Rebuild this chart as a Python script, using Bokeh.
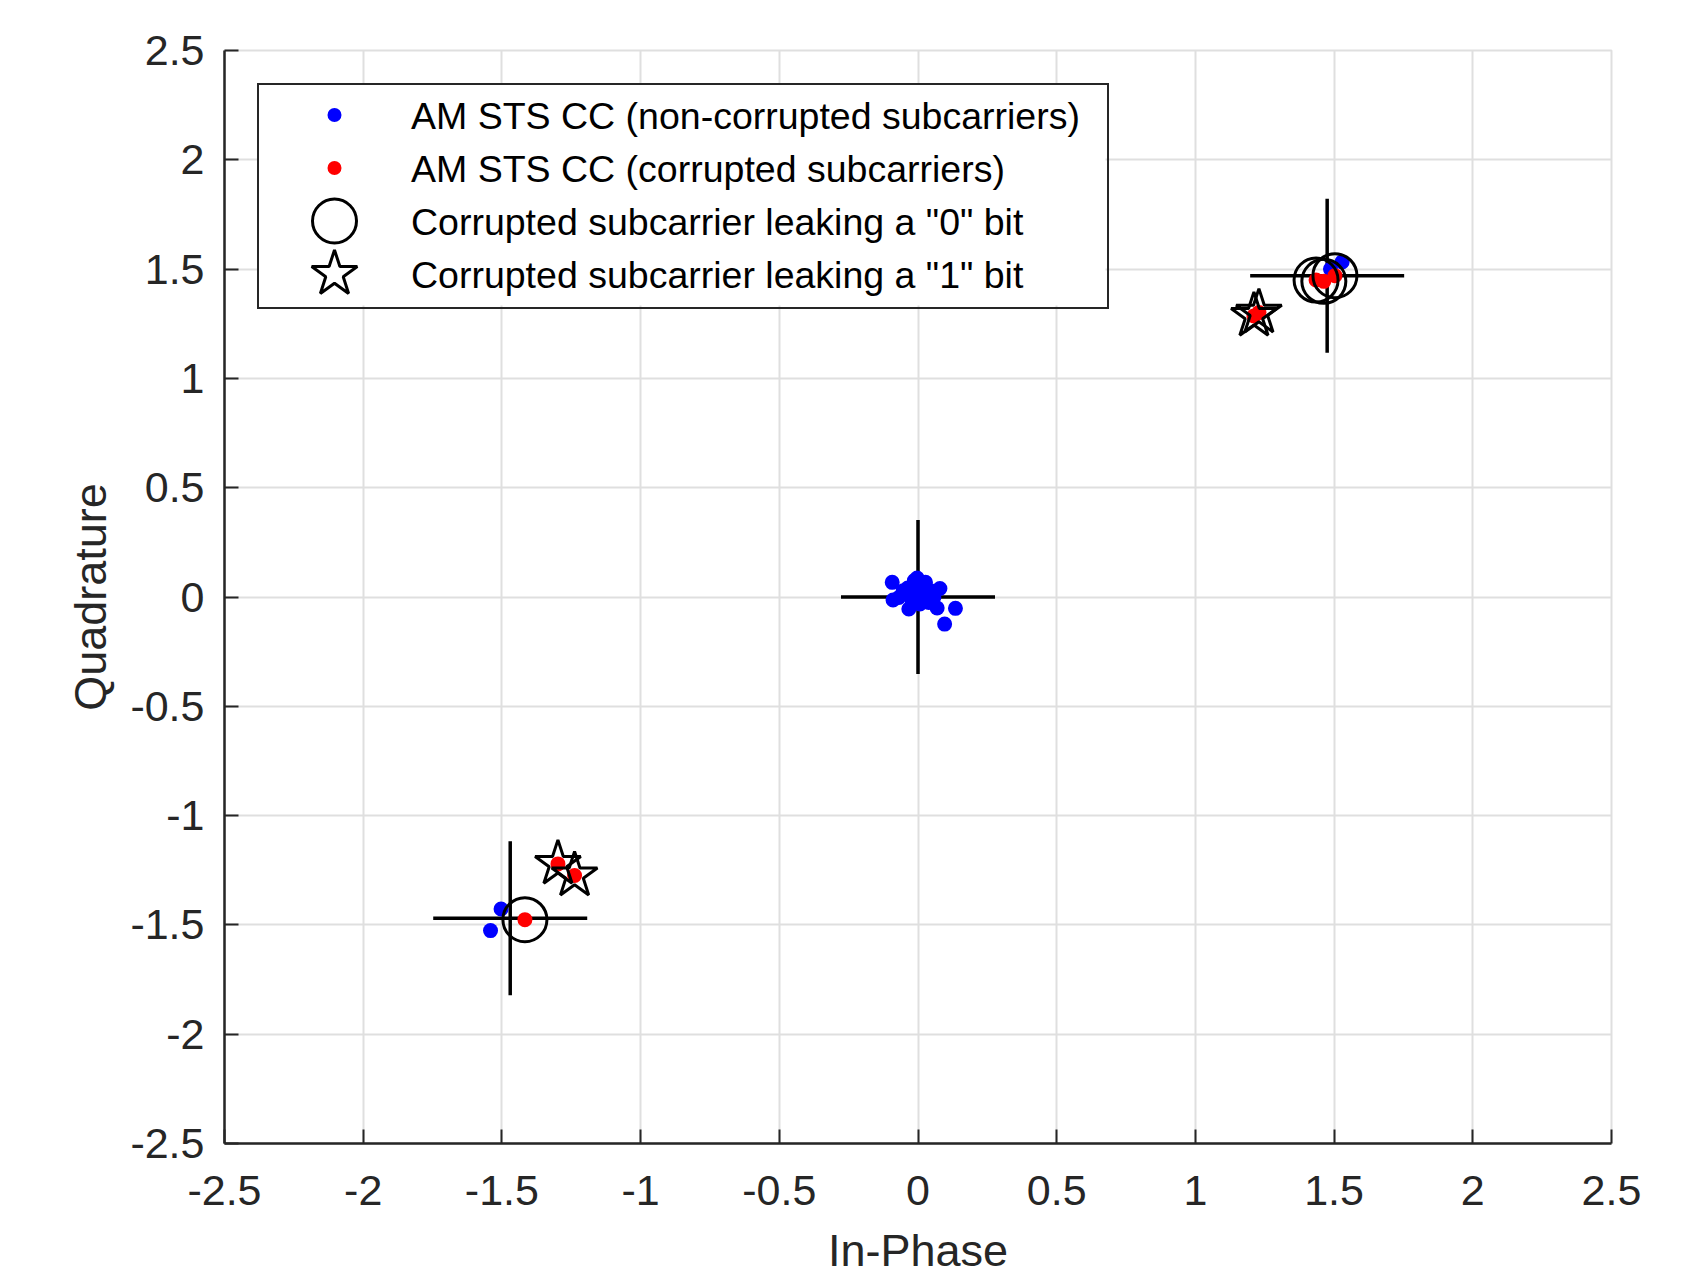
from bokeh.plotting import figure
from bokeh.models import FixedTicker, Legend, LegendItem, CustomJSTickFormatter, Range1d
from bokeh.embed import file_html
from bokeh.resources import INLINE

# ---------------- data ----------------
tick_values = [-2.5, -2, -1.5, -1, -0.5, 0, 0.5, 1, 1.5, 2, 2.5]
tick_labels = ["-2.5", "-2", "-1.5", "-1", "-0.5", "0", "0.5", "1", "1.5", "2", "2.5"]

# non-corrupted subcarriers (blue)
blue_x = [-0.093, -0.090, -0.069, -0.053, -0.037, -0.033, -0.021, -0.013, -0.003, 0.003, 0.007,
          0.019, 0.027, 0.031, 0.039, 0.045, 0.057, 0.069, 0.079, 0.135, 0.096, -0.015,
          1.487, 1.529, -1.503, -1.541]
blue_y = [0.067, -0.014, -0.002, 0.029, 0.041, -0.055, -0.017, 0.075, 0.087, 0.029, -0.032,
          0.059, 0.067, 0.006, -0.025, 0.029, -0.002, -0.050, 0.039, -0.052, -0.124, 0.006,
          1.500, 1.533, -1.427, -1.526]

# corrupted subcarriers leaking a "0" bit (circles)
zero_x = [1.435, 1.463, 1.503, -1.417]
zero_y = [1.450, 1.444, 1.470, -1.476]

# corrupted subcarriers leaking a "1" bit (stars)
one_x = [1.211, 1.229, -1.298, -1.238]
one_y = [1.286, 1.301, -1.221, -1.274]

# corrupted subcarriers (red) = union of the above
red_x = zero_x + one_x
red_y = zero_y + one_y

# reference constellation points (crosshairs)
ref_x = [0.0, 1.475, -1.470]
ref_y = [0.0, 1.470, -1.470]

legend_labels = [
    "AM STS CC (non-corrupted subcarriers)",
    "AM STS CC (corrupted subcarriers)",
    "Corrupted subcarrier leaking a \"0\" bit",
    "Corrupted subcarrier leaking a \"1\" bit",
]

# ---------------- layout ----------------
FRAME_W, FRAME_H = 1387, 1093
TXT = "#262626"
GRID = "#dfdfdf"
FONT = "Liberation Sans"

p = figure(frame_width=FRAME_W, frame_height=FRAME_H,
           min_border_left=224, min_border_right=80, min_border_top=50, min_border_bottom=140,
           x_range=Range1d(-2.5, 2.5), y_range=Range1d(-2.5, 2.5),
           output_backend="svg", toolbar_location=None,
           background_fill_color="white", border_fill_color="white")

fmt = CustomJSTickFormatter(args=dict(vals=tick_values, labs=tick_labels), code="""
const i = vals.findIndex(v => Math.abs(v - tick) < 1e-9);
return i >= 0 ? labs[i] : '';
""")

for ax in (p.xaxis[0], p.yaxis[0]):
    ax.ticker = FixedTicker(ticks=tick_values)
    ax.formatter = fmt
    ax.minor_tick_line_color = None
    ax.major_tick_in = 14
    ax.major_tick_out = 0
    ax.major_tick_line_color = TXT
    ax.major_tick_line_width = 2
    ax.axis_line_color = TXT
    ax.axis_line_width = 2.5
    ax.major_label_text_font = FONT
    ax.major_label_text_font_size = "43px"
    ax.major_label_text_color = TXT
    ax.axis_label_text_font = FONT
    ax.axis_label_text_font_size = "45px"
    ax.axis_label_text_font_style = "normal"
    ax.axis_label_text_color = TXT

p.xaxis.axis_label = "In-Phase"
p.yaxis.axis_label = "Quadrature"
p.xaxis.major_label_standoff = 32
p.yaxis.major_label_standoff = 20
p.xaxis.axis_label_standoff = 17
p.yaxis.axis_label_standoff = 11

for g in (p.xgrid[0], p.ygrid[0]):
    g.ticker = FixedTicker(ticks=tick_values)
    g.grid_line_color = GRID
    g.grid_line_width = 2
p.outline_line_color = GRID
p.outline_line_width = 2

# ---------------- marks ----------------
p.scatter(ref_x, ref_y, marker="cross", size=154, line_color="black", line_width=3.5)
p.scatter(blue_x, blue_y, marker="circle", size=15, fill_color="#0000ff", line_color=None)
p.scatter(red_x, red_y, marker="circle", size=15, fill_color="#ff0000", line_color=None)
p.scatter(zero_x, zero_y, marker="circle", size=44, fill_color=None, line_color="black", line_width=3)
p.scatter(one_x, one_y, marker="star", size=48, fill_color=None, line_color="black", line_width=3)

# ---------------- legend ----------------
LEG_MARGIN, LEG_PAD, GLYPH_W, ROW_H, STANDOFF, LABEL_W = 33, 5, 144, 53, 3, 691
LEG_W = 2 * LEG_PAD + GLYPH_W + STANDOFF + LABEL_W
LEG_H = 2 * LEG_PAD + len(legend_labels) * ROW_H
PX_X = 5.0 / FRAME_W
PX_Y = 5.0 / FRAME_H

# white legend background (covers the grid), legend itself is transparent
bx0 = -2.5 + LEG_MARGIN * PX_X
by1 = 2.5 - LEG_MARGIN * PX_Y
p.quad(left=[bx0], right=[bx0 + LEG_W * PX_X], top=[by1], bottom=[by1 - LEG_H * PX_Y],
       fill_color="white", line_color=None)

dummies = [p.scatter(x=[], y=[], marker="circle", size=1, fill_alpha=0, line_alpha=0) for _ in legend_labels]
legend = Legend(items=[LegendItem(label=l, renderers=[r]) for l, r in zip(legend_labels, dummies)],
                location="top_left", margin=LEG_MARGIN, padding=LEG_PAD, spacing=0,
                glyph_width=GLYPH_W, glyph_height=ROW_H, label_standoff=STANDOFF,
                label_width=LABEL_W, label_height=ROW_H,
                label_text_font=FONT, label_text_font_size="37.5px", label_text_color="black",
                border_line_color=TXT, border_line_width=2, border_line_alpha=1.0,
                background_fill_alpha=0.0)
p.add_layout(legend)

# legend symbols (positions derived from the legend layout in pixels)
lx = -2.5 + (LEG_MARGIN + LEG_PAD + GLYPH_W / 2) * PX_X
row_y = [2.5 - (LEG_MARGIN + LEG_PAD + ROW_H / 2 + ROW_H * i) * PX_Y for i in range(4)]
p.scatter([lx], [row_y[0]], marker="circle", size=14, fill_color="#0000ff", line_color=None)
p.scatter([lx], [row_y[1]], marker="circle", size=14, fill_color="#ff0000", line_color=None)
p.scatter([lx], [row_y[2]], marker="circle", size=44, fill_color=None, line_color="black", line_width=3)
p.scatter([lx], [row_y[3]], marker="star", size=48, fill_color=None, line_color="black", line_width=3)

open("out.html", "w").write(file_html(p, INLINE))
